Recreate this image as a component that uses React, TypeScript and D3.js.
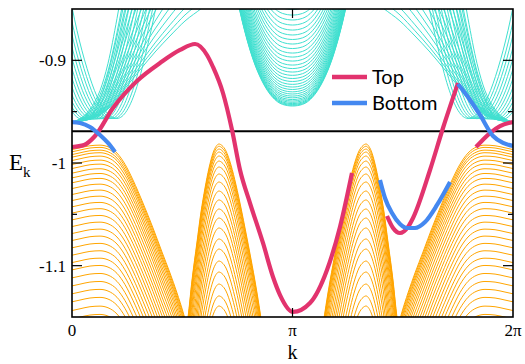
import React, { useEffect, useRef } from "react";
import * as d3 from "d3";

const W = 525;
const H = 364;
const TWO_PI = 2 * Math.PI;

// axes
const xTicks = [0, Math.PI, TWO_PI];
const xTickLabels = ["0", "π", "2π"];
const yTicks = [-0.9, -1, -1.1];
const yTickLabels = ["-0.9", "-1", "-1.1"];
const yMinorTicks = [-0.95, -1.05];
const fermiLevel = -0.969;

// conduction subbands around k = pi: outermost band shape + minimum of every subband
const piBandProfile = [
  [2.287, -0.8179], [2.43, -0.8632], [2.572, -0.8976], [2.715, -0.9212], [2.857, -0.9359],
  [2.999, -0.9429], [3.142, -0.9445], [3.284, -0.9429], [3.427, -0.9359], [3.569, -0.9212],
  [3.712, -0.8976], [3.854, -0.8632], [3.996, -0.8179],
];
const piBandMinima = [
  -0.9445, -0.9438, -0.943, -0.9421, -0.9409, -0.9396, -0.9382, -0.9365, -0.9348, -0.9328,
  -0.9307, -0.9284, -0.926, -0.9234, -0.9206, -0.9177, -0.9146, -0.9114, -0.908, -0.9046,
  -0.9007, -0.8968, -0.8929, -0.8885, -0.8841, -0.8797, -0.8753, -0.8705, -0.8656, -0.8607,
  -0.8559, -0.8505,
];

// conduction subbands near k = 0 (mirrored at 2pi): crossing "hat" bands
const hatchShape = [
  [-0.712, 0.1334], [-0.57, 0.0857], [-0.427, 0.0487], [-0.285, 0.0214], [-0.142, 0.0054],
  [0, 0], [0.142, 0.0078], [0.285, 0.0312], [0.427, 0.0682], [0.57, 0.113], [0.712, 0.161],
];
const hatchMinK = [0.171, 0.214, 0.256, 0.299, 0.342, 0.385, 0.427, 0.47, 0.513, 0.556, 0.598, 0.641];
const hatchMinE = [-0.958, -0.9578, -0.9575, -0.9573, -0.9572, -0.957, -0.9569, -0.9568, -0.9568, -0.9567, -0.9567, -0.9566];

// conduction fan near k = 0
const fanBase = -0.9601;
const fanProfile = [
  [0, -0.9601], [0.142, -0.9591], [0.285, -0.9567], [0.399, -0.9533], [0.513, -0.9474],
  [0.641, -0.9377], [0.784, -0.925], [0.969, -0.9094], [1.183, -0.8919], [1.396, -0.8763],
  [1.61, -0.8617], [1.852, -0.849], [2.109, -0.8335],
];
const fanScale = [1.0, 1.06, 1.13, 1.23, 1.33, 1.44, 1.58, 1.73, 1.9, 2.1, 2.4, 2.65, 3.0, 3.4, 3.9, 4.5];

// valence subbands near k = 0 (mirrored at 2pi): top band + drop of each subband
const valenceEdgeProfile = [
  [0, -0.9869], [0.114, -0.9852], [0.256, -0.9832], [0.399, -0.9826], [0.513, -0.9842],
  [0.641, -0.9903], [0.755, -1.0012], [0.869, -1.0166], [1.011, -1.039], [1.154, -1.0633],
  [1.282, -1.0867], [1.396, -1.1071], [1.496, -1.1266], [1.582, -1.1451], [1.653, -1.1627],
];
const valenceEdgeDrops = [
  0, 0.0022, 0.0049, 0.0074, 0.0107, 0.0146, 0.0185, 0.023, 0.0276, 0.0324, 0.038, 0.0438,
  0.0497, 0.0558, 0.0619, 0.0685, 0.075, 0.0818, 0.0886, 0.0957, 0.1029, 0.1101, 0.1172,
  0.125, 0.1328, 0.1405, 0.1483, 0.1568, 0.1649,
];

// valence lobe near k ~ 2.1 (mirrored at 2pi - k)
const lobeProfile = [
  [1.596, -1.1724], [1.653, -1.15], [1.71, -1.114], [1.781, -1.077], [1.838, -1.0477],
  [1.895, -1.0244], [1.952, -1.0049], [2.009, -0.9903], [2.052, -0.9839], [2.094, -0.9815],
  [2.137, -0.983], [2.194, -0.9883], [2.265, -1.002], [2.337, -1.0214], [2.408, -1.0438],
  [2.479, -1.0682], [2.55, -1.0935], [2.622, -1.1208], [2.679, -1.1451], [2.736, -1.1724],
];
const lobeDrops = [
  0, 0.0022, 0.0049, 0.0078, 0.0117, 0.0166, 0.0224, 0.0292, 0.037, 0.0458, 0.0545, 0.0633,
  0.0721, 0.0818, 0.0925, 0.1023, 0.114, 0.1247, 0.1364, 0.148, 0.1578,
];

// edge states
const topState = [
  [[0, -0.9844], [0.171, -0.9825], [0.328, -0.9737], [0.584, -0.9464], [0.926, -0.9201],
    [1.254, -0.9026], [1.539, -0.8899], [1.753, -0.8841], [1.923, -0.8948], [2.009, -0.9065],
    [2.151, -0.9318], [2.28, -0.9679], [2.394, -1.0068], [2.536, -1.039], [2.721, -1.0779],
    [2.864, -1.111], [2.964, -1.1286], [3.149, -1.1451], [3.391, -1.1364], [3.633, -1.1042],
    [3.818, -1.0623], [3.989, -1.0097]],
  [[4.488, -1.0516], [4.574, -1.0633], [4.673, -1.0682], [4.787, -1.0623], [4.859, -1.0536],
    [5.101, -1.0068], [5.286, -0.9659], [5.5, -0.9221]],
  [[5.756, -0.9844], [5.956, -0.9708], [6.098, -0.964], [6.283, -0.9601]],
];
const bottomState = [
  [[0, -0.9601], [0.114, -0.961], [0.256, -0.9649], [0.399, -0.9727], [0.513, -0.9805], [0.613, -0.9893]],
  [[4.388, -1.0166], [4.459, -1.0341], [4.559, -1.0487], [4.673, -1.0594], [4.773, -1.0633],
    [4.887, -1.0633], [5.03, -1.0575], [5.201, -1.0409], [5.386, -1.0185]],
  [[5.5, -0.9231], [5.671, -0.9386], [5.813, -0.9532], [5.999, -0.9737], [6.141, -0.9805], [6.283, -0.9834]],
];

const legendItems = ["Top", "Bottom"];
const CYAN = "#40e0d0";
const ORANGE = "#ffa500";
const PINK = "#e2336e";
const BLUE = "#4488f0";
const SERIF = "'Liberation Serif', 'Times New Roman', serif";

const App = () => {
  const ref = useRef<SVGSVGElement>(null);

  useEffect(() => {
    const svg = d3.select(ref.current);
    svg.selectAll("*").remove();

    const x = d3.scaleLinear().domain([0, TWO_PI]).range([72, 513]);
    const y = d3.scaleLinear().domain([-1.15, -0.85]).range([317, 9]);
    const [x0, x1] = x.range();
    const [y0, y1] = y.range();

    svg.append("defs").append("clipPath").attr("id", "plotArea")
      .append("rect").attr("x", x0).attr("y", y1).attr("width", x1 - x0).attr("height", y0 - y1);

    const line = d3.line<number[]>().x((d) => x(d[0])).y((d) => y(d[1])).curve(d3.curveMonotoneX);
    const mirror = (pts: number[][]) => pts.map(([k, e]) => [TWO_PI - k, e]).reverse();

    const bands = svg.append("g").attr("clip-path", "url(#plotArea)");
    const draw = (pts: number[][], color: string, both = true) => {
      const sets = both ? [pts, mirror(pts)] : [pts];
      sets.forEach((p) => {
        bands.append("path").attr("d", line(p as any)).attr("fill", "none")
          .attr("stroke", color).attr("stroke-width", 1);
      });
    };

    // conduction bands
    piBandMinima.forEach((m) => {
      draw(piBandProfile.map(([k, e]) => [k, e + (m - piBandMinima[0])]), CYAN, false);
    });
    fanScale.forEach((s) => {
      draw(fanProfile.map(([k, e]) => [k, fanBase + s * (e - fanBase)]), CYAN);
    });
    hatchMinK.forEach((k0, i) => {
      draw(hatchShape.map(([dk, de]) => [k0 + dk, hatchMinE[i] + de]), CYAN);
    });

    // valence bands
    valenceEdgeDrops.forEach((d) => {
      draw(valenceEdgeProfile.map(([k, e]) => [k, e - d]), ORANGE);
    });
    lobeDrops.forEach((d) => {
      draw(lobeProfile.map(([k, e]) => [k, e - d]), ORANGE);
    });

    // reference level
    bands.append("line").attr("x1", x0).attr("x2", x1)
      .attr("y1", y(fermiLevel)).attr("y2", y(fermiLevel))
      .attr("stroke", "#000").attr("stroke-width", 2);

    // edge states
    const edges = svg.append("g").attr("clip-path", "url(#plotArea)");
    [[topState, PINK], [bottomState, BLUE]].forEach(([segs, color]) => {
      (segs as number[][][]).forEach((seg) => {
        edges.append("path").attr("d", line(seg as any)).attr("fill", "none")
          .attr("stroke", color as string).attr("stroke-width", 4.2).attr("stroke-linecap", "butt");
      });
    });

    // frame + ticks
    svg.append("rect").attr("x", x0).attr("y", y1).attr("width", x1 - x0).attr("height", y0 - y1)
      .attr("fill", "none").attr("stroke", "#000").attr("stroke-width", 1.6);

    const ticks = svg.append("g").attr("stroke", "#000").attr("stroke-width", 1.2);
    yTicks.forEach((v) => {
      ticks.append("line").attr("x1", x0).attr("x2", x0 + 10).attr("y1", y(v)).attr("y2", y(v));
      ticks.append("line").attr("x1", x1).attr("x2", x1 - 10).attr("y1", y(v)).attr("y2", y(v));
    });
    yMinorTicks.forEach((v) => {
      ticks.append("line").attr("x1", x0).attr("x2", x0 + 5).attr("y1", y(v)).attr("y2", y(v));
      ticks.append("line").attr("x1", x1).attr("x2", x1 - 5).attr("y1", y(v)).attr("y2", y(v));
    });
    xTicks.slice(1, -1).forEach((v) => {
      ticks.append("line").attr("x1", x(v)).attr("x2", x(v)).attr("y1", y0).attr("y2", y0 - 9);
      ticks.append("line").attr("x1", x(v)).attr("x2", x(v)).attr("y1", y1).attr("y2", y1 + 9);
    });

    const labels = svg.append("g").attr("font-family", SERIF).attr("fill", "#000");
    yTicks.forEach((v, i) => {
      labels.append("text").attr("x", 66).attr("y", y(v)).attr("dy", "0.35em")
        .attr("text-anchor", "end").attr("font-size", 17).text(yTickLabels[i]);
    });
    xTicks.forEach((v, i) => {
      labels.append("text").attr("x", x(v)).attr("y", 336)
        .attr("text-anchor", "middle").attr("font-size", 17).text(xTickLabels[i]);
    });
    const ek = labels.append("text").attr("x", 9).attr("y", 170).attr("font-size", 23);
    ek.append("tspan").text("E");
    ek.append("tspan").attr("font-size", 15).attr("dy", 7).text("k");
    labels.append("text").attr("x", x(Math.PI)).attr("y", 359).attr("text-anchor", "middle")
      .attr("font-size", 20).text("k");

    // legend
    const legend = svg.append("g").attr("font-family", "Lato, 'Open Sans', sans-serif");
    [PINK, BLUE].forEach((c, i) => {
      const ly = 77 + i * 26;
      legend.append("line").attr("x1", 332).attr("x2", 367).attr("y1", ly).attr("y2", ly)
        .attr("stroke", c).attr("stroke-width", 4.5);
      legend.append("text").attr("x", 372).attr("y", ly + 7).attr("font-size", 20)
        .attr("fill", "#000").text(legendItems[i]);
    });
  }, []);

  return (
    <svg ref={ref} width={W} height={H}
      style={{ position: "absolute", left: 0, top: 0, background: "#fff" }} />
  );
};

export default App;
